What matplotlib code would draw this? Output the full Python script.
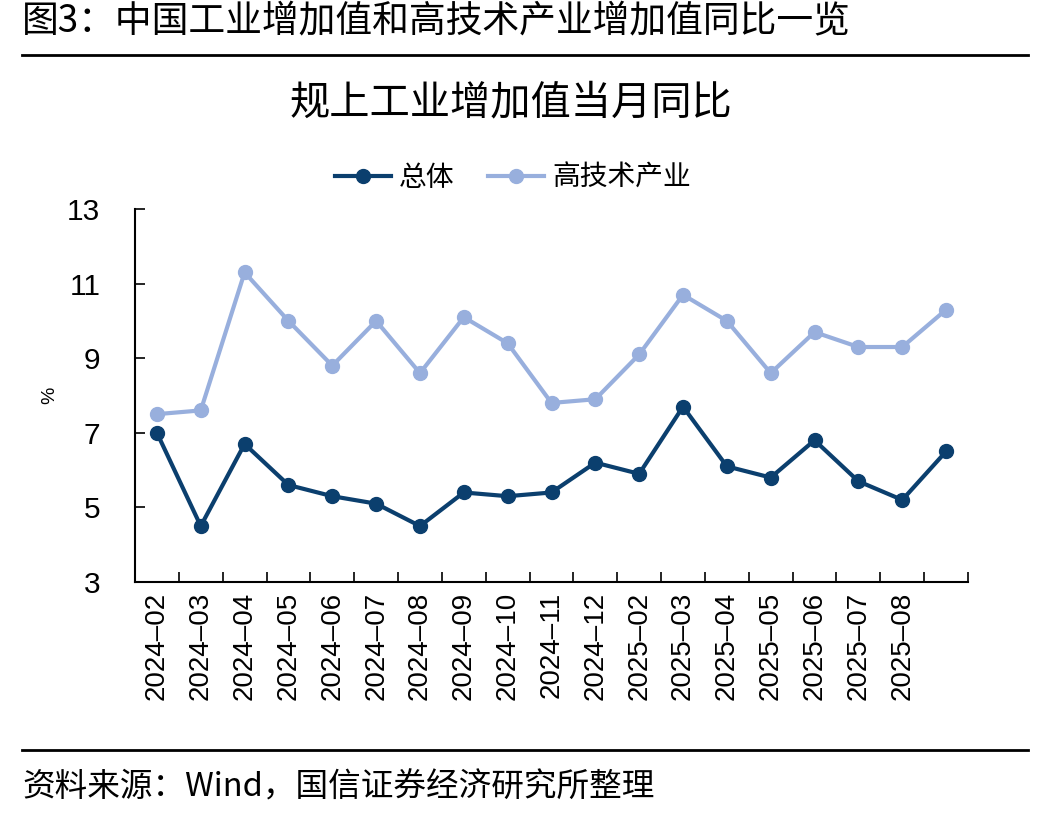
import numpy as np
import matplotlib.pyplot as plt
from matplotlib.lines import Line2D

plt.rcParams['font.family'] = ['Liberation Sans', 'Noto Sans CJK SC', 'DejaVu Sans']

months = ['2024-02', '2024-03', '2024-04', '2024-05', '2024-06', '2024-07',
          '2024-08', '2024-09', '2024-10', '2024-11', '2024-12', '2025-02',
          '2025-03', '2025-04', '2025-05', '2025-06', '2025-07', '2025-08', '']
total = [7.0, 4.5, 6.7, 5.6, 5.3, 5.1, 4.5, 5.4, 5.3, 5.4, 6.2, 5.9,
         7.7, 6.1, 5.8, 6.8, 5.7, 5.2, 6.5]
hightech = [7.5, 7.6, 11.3, 10.0, 8.8, 10.0, 8.6, 10.1, 9.4, 7.8, 7.9, 9.1,
            10.7, 10.0, 8.6, 9.7, 9.3, 9.3, 10.3]

dark = '#0b3f6e'
light = '#98afdd'
cjk = ['Noto Sans CJK SC', 'DejaVu Sans']

fig = plt.figure(figsize=(10.48, 8.18), dpi=100)
ax = fig.add_axes([135/1048, 1-582/818, 833/1048, 373/818])

x = np.arange(len(months))
ax.plot(x, total, color=dark, lw=3, marker='o', ms=10, label='总体', zorder=3)
ax.plot(x, hightech, color=light, lw=3, marker='o', ms=10, label='高技术产业', zorder=2)

ax.set_xlim(-0.5, len(months) - 0.5)
ax.set_ylim(3, 13)
ax.set_yticks([3, 5, 7, 9, 11, 13])
ax.set_xticks(np.arange(len(months)) + 0.5)
ax.set_xticklabels([])
ax.set_xticks(x, minor=True)
ax.set_xticklabels([m.replace('-', '–') for m in months], minor=True,
                   rotation=90, fontsize=20)
ax.tick_params(axis='x', which='major', direction='in', length=7, width=1.2)
ax.tick_params(axis='x', which='minor', length=0, pad=7)
ax.tick_params(axis='y', direction='in', length=7, width=1.2, labelsize=21.5, pad=25)
for lab in ax.get_yticklabels():
    lab.set_horizontalalignment('right')
ax.spines['top'].set_visible(False)
ax.spines['right'].set_visible(False)
for s in ['left', 'bottom']:
    ax.spines[s].set_linewidth(1.5)
ax.set_ylabel('%', fontsize=14, labelpad=6)

# titles and rules
fig.text(22/1048, 1-22/818, '图3：中国工业增加值和高技术产业增加值同比一览', family=cjk,
         fontsize=26.5, va='center', ha='left')
fig.add_artist(Line2D([22/1048, 1028/1048], [1-55/818, 1-55/818], color='black', lw=2))
fig.text(511/1048, 1-103/818, '规上工业增加值当月同比', family=cjk, fontsize=29,
         va='center', ha='center')
fig.legend(loc='center', bbox_to_anchor=(513/1048, 1-178/818), ncol=2, frameon=False,
           prop={'family': cjk, 'size': 20}, handlelength=2.0, columnspacing=1.2,
           handletextpad=0.3)
fig.add_artist(Line2D([22/1048, 1028/1048], [1-750/818, 1-750/818], color='black', lw=2))
fig.text(22/1048, 1-787/818, '资料来源：Wind，国信证券经济研究所整理', family=cjk,
         fontsize=23.5, va='center', ha='left')

fig.savefig('out.png', dpi=100)
